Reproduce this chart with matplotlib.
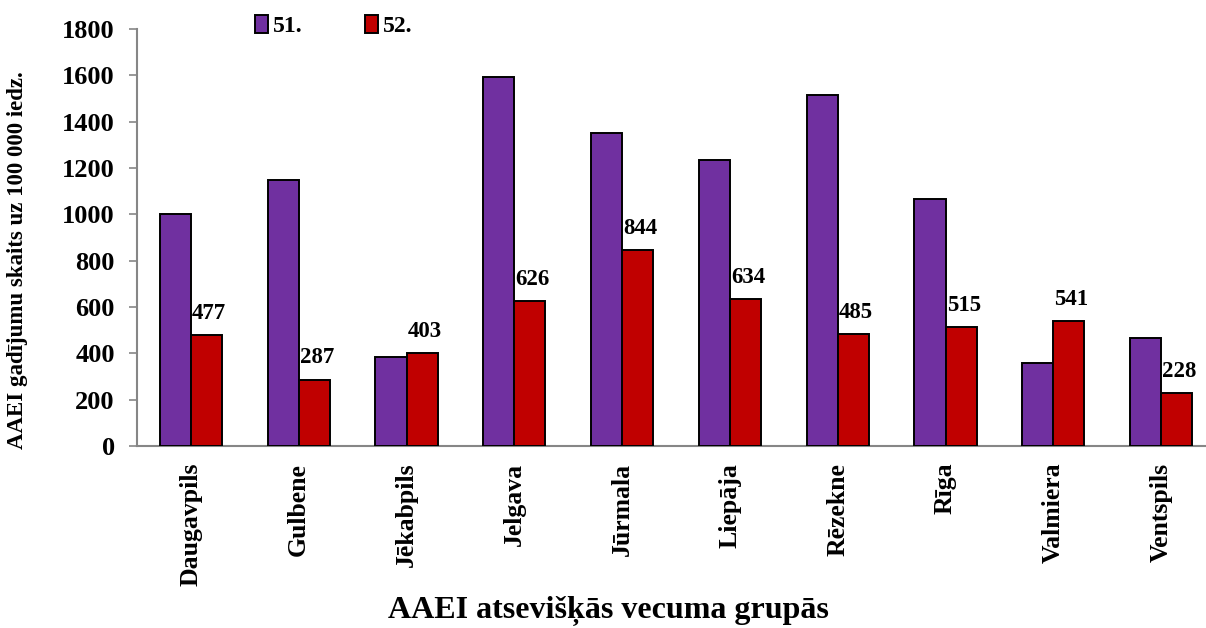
import matplotlib
matplotlib.use("Agg")
import matplotlib.pyplot as plt
import numpy as np
from matplotlib.patches import Patch

categories = ["Daugavpils", "Gulbene", "Jēkabpils", "Jelgava", "Jūrmala",
              "Liepāja", "Rēzekne", "Rīga", "Valmiera", "Ventspils"]
series_51 = [1000, 1150, 385, 1592, 1350, 1235, 1515, 1067, 358, 467]
series_52 = [477, 287, 403, 626, 844, 634, 485, 515, 541, 228]
series_names = ["51.", "52."]
yticks = [0, 200, 400, 600, 800, 1000, 1200, 1400, 1600, 1800]

plt.rcParams['font.family'] = ['Liberation Serif', 'DejaVu Serif']
plt.rcParams['font.weight'] = 'bold'

fig = plt.figure(figsize=(12.06, 6.28), dpi=100)
ax = fig.add_axes([137/1206, 1-446/628, (1215-137)/1206, (446-29)/628])

x = np.arange(len(categories))
w = 0.288
purple = "#7030A0"
red = "#C00000"
ax.bar(x - w/2, series_51, width=w, color=purple, edgecolor="black", linewidth=1.4, zorder=3)
ax.bar(x + w/2, series_52, width=w, color=red, edgecolor="black", linewidth=1.4, zorder=3)

for xi, v in zip(x, series_52):
    ax.annotate(str(v), (xi + w/2, v), xytext=(2, 8), textcoords="offset points",
                ha="center", va="bottom", fontsize=16.5, fontweight="bold")

ax.set_xlim(-0.5, len(categories) - 0.5)
ax.set_ylim(0, 1800)
ax.set_yticks(yticks)
ax.set_yticklabels([str(t) for t in yticks], fontsize=19, fontweight="bold")
ax.set_xticks(x)
ax.set_xticklabels(categories, rotation=90, fontsize=18.5, fontweight="bold")
ax.tick_params(axis="x", length=0, pad=12)
ax.tick_params(axis="y", length=6, width=1.2, color="#868686", pad=10, direction="out")

for s in ["top", "right"]:
    ax.spines[s].set_visible(False)
for s in ["left", "bottom"]:
    ax.spines[s].set_color("#868686")
    ax.spines[s].set_linewidth(1.5)

ax.set_ylabel("AAEI gadījumu skaits uz 100 000 iedz.", fontsize=16.5, fontweight="bold")
ax.yaxis.set_label_coords(-0.101, 0.445)
fig.text(608/1206, 1-611/628, "AAEI atsevišķās vecuma grupās", ha="center", va="center",
         fontsize=23, fontweight="bold")

handles = [Patch(facecolor=purple, edgecolor="black", linewidth=1.4),
           Patch(facecolor=red, edgecolor="black", linewidth=1.4)]
fig.legend(handles, series_names, loc="center left", bbox_to_anchor=(234/1206, 1-26/628),
           ncol=2, frameon=False, prop={"size": 17, "weight": "bold"},
           handlelength=0.55, handleheight=0.8, handletextpad=0.2, columnspacing=2.65)

fig.savefig("out.png", dpi=100)
